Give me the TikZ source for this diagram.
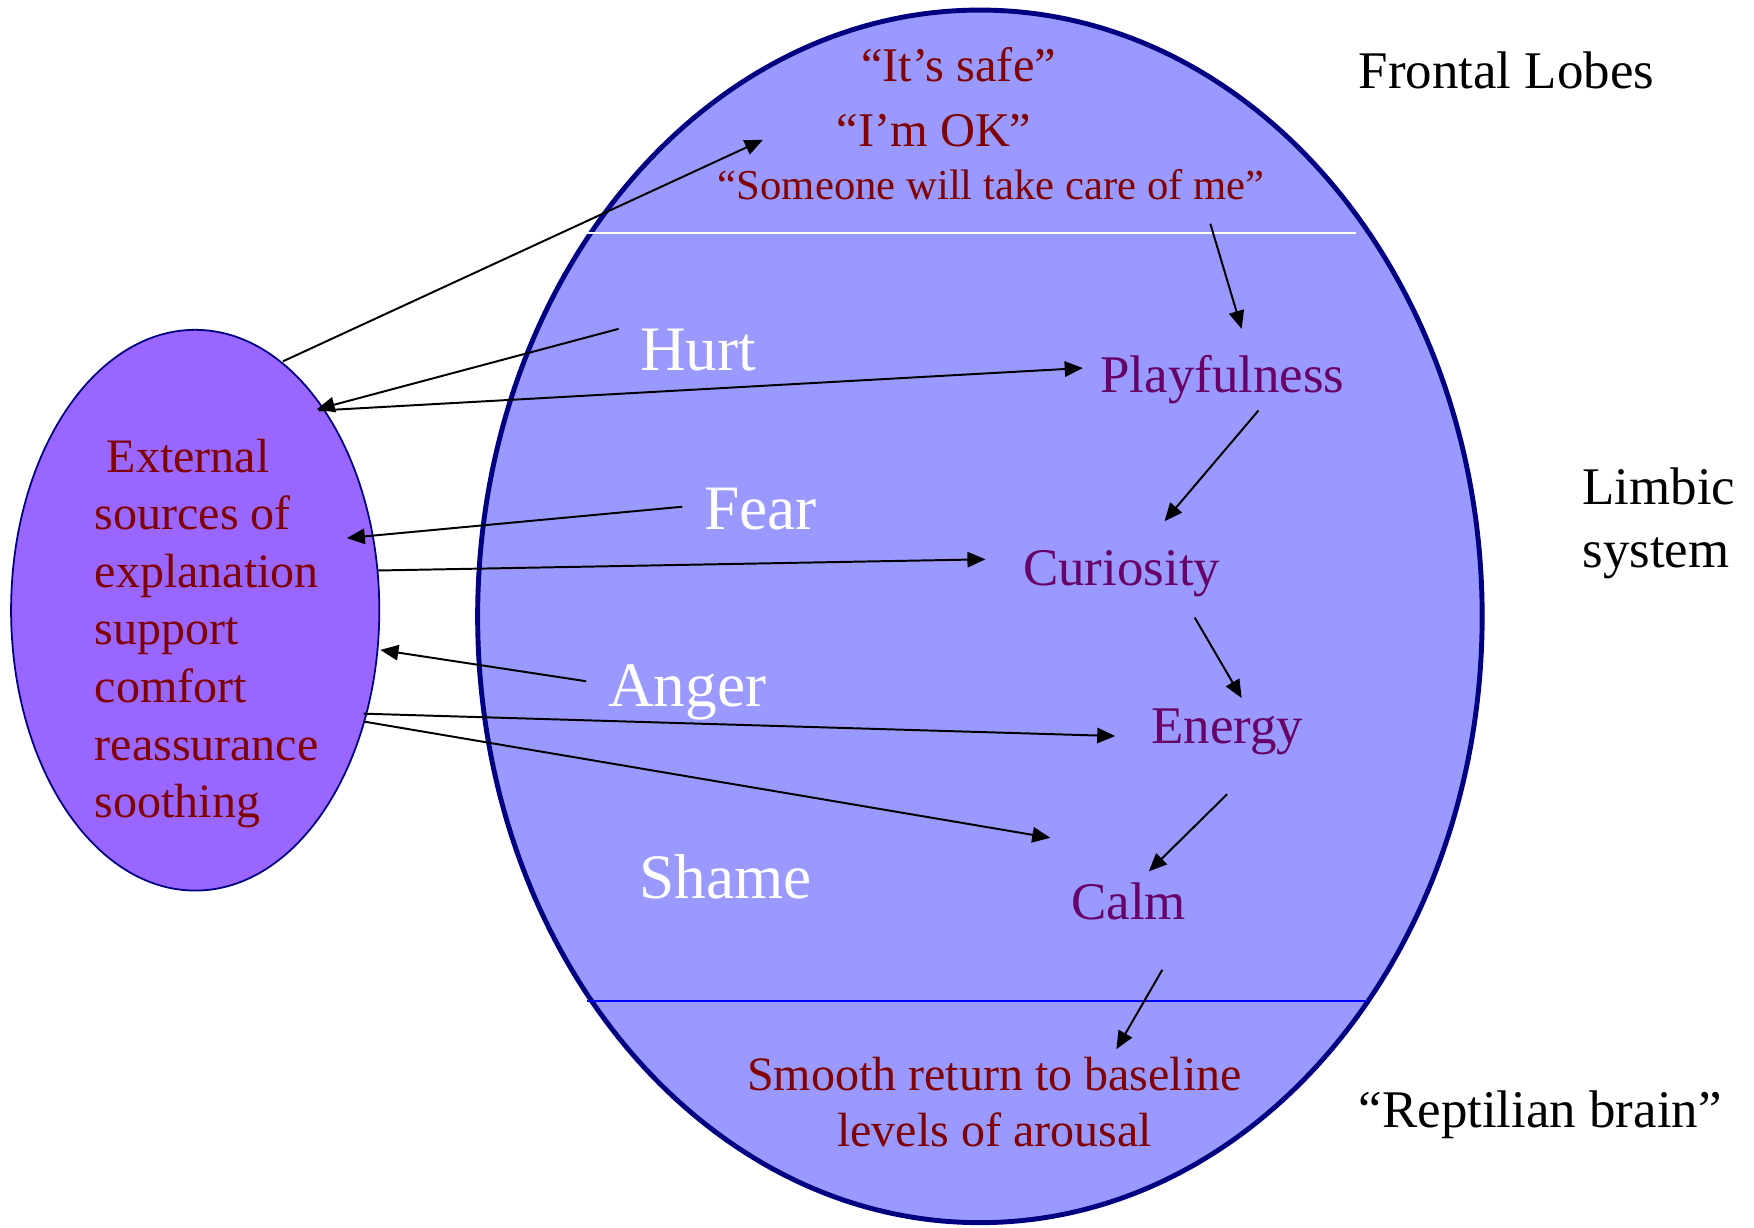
\documentclass[tikz,border=0pt]{standalone}
\usepackage{fontspec}
\setmainfont{Liberation Serif}
\usetikzlibrary{arrows.meta,shapes.geometric}
\definecolor{lobefill}{HTML}{9999FF}
\definecolor{srcfill}{HTML}{9966FF}
\definecolor{rim}{HTML}{000080}
\definecolor{maroon}{HTML}{800000}
\definecolor{plum}{HTML}{660066}
\definecolor{divider}{HTML}{0000FF}

\begin{document}
\begin{tikzpicture}[x=0.01cm,y=-0.01cm,
  emo/.style={text=white,font=\fontsize{16.1}{19}\selectfont,anchor=base west,inner sep=0pt},
  calmstep/.style={text=plum,font=\fontsize{13.45}{16}\selectfont,anchor=base west,inner sep=0pt},
  region/.style={text=black,font=\fontsize{13.45}{16}\selectfont,anchor=base west,inner sep=0pt},
  selftalk/.style={text=maroon,font=\fontsize{12.3}{15}\selectfont,anchor=base,inner sep=0pt},
  srcline/.style={text=maroon,font=\fontsize{12.2}{14.6}\selectfont,anchor=base west,inner sep=0pt},
  arr/.style={-{Triangle[length=4.6pt,width=3.9pt]},line width=0.5pt,black}]
\useasboundingbox (0,0) rectangle (1568,1097);

% the brain and its three layers
\draw[draw=rim,line width=1.25pt,fill=lobefill] (876,551) ellipse [x radius=449, y radius=542];
\draw[white,line width=0.5pt] (525,208) -- (1212,208);
\draw[divider,line width=0.5pt] (525,895) -- (1222,895);

% external sources
\node[ellipse,draw=rim,line width=0.45pt,fill=srcfill,minimum width=3.29cm,minimum height=5.01cm,inner sep=0pt] (src) at (174.5,545.5) {};
\node[srcline] (src1) at (84,422) {\hspace*{0.25em}External};
\node[srcline] (src2) at (84,473.5) {sources of};
\node[srcline] (src3) at (84,525) {explanation};
\node[srcline] (src4) at (84,576.5) {support};
\node[srcline] (src5) at (84,628) {comfort};
\node[srcline] (src6) at (84,679.5) {reassurance};
\node[srcline] (src7) at (84,731) {soothing};

% layer names
\node[region] (frontal) at (1214,79) {Frontal Lobes};
\node[region] (limbic1) at (1414,451) {Limbic};
\node[region] (limbic2) at (1414,507) {system};
\node[region] (reptile) at (1214,1008) {“Reptilian brain”};

% frontal self-talk
\node[selftalk] (safe) at (857,73) {“It’s safe”};
\node[selftalk] (ok) at (835,131) {“I’m OK”};
\node[selftalk,font=\fontsize{10.85}{13}\selectfont] (care) at (886,178) {“Someone will take care of me”};

% emotions
\node[emo] (hurt) at (571.5,331) {Hurt};
\node[emo] (fear) at (628.8,473.5) {Fear};
\node[emo] (anger) at (543,632) {Anger};
\node[emo] (shame) at (571,803) {Shame};

% regulated sequence
\node[calmstep] (play) at (983,351) {Playfulness};
\node[calmstep] (curio) at (914,523) {Curiosity};
\node[calmstep] (energy) at (1028.7,664.5) {Energy};
\node[calmstep] (calm) at (957,822) {Calm};

% baseline
\node[selftalk,font=\fontsize{12.2}{14.6}\selectfont] (smooth1) at (889,974.5) {Smooth return to baseline};
\node[selftalk,font=\fontsize{12.2}{14.6}\selectfont] (smooth2) at (889,1025) {levels of arousal};

% connector ends
\coordinate (srcTop) at (253,323);
\coordinate (frontIn) at (682,125);
\coordinate (hurtOut) at (553,294);
\coordinate (srcHurt) at (283,366);
\coordinate (srcPlay) at (285,367);
\coordinate (playIn) at (968,329);
\coordinate (fearOut) at (610,453);
\coordinate (srcFear) at (310,481);
\coordinate (srcCurio) at (338,510);
\coordinate (curioIn) at (881,500);
\coordinate (angerOut) at (524,609);
\coordinate (srcAnger) at (340,581);
\coordinate (srcEnergy) at (325,638);
\coordinate (energyIn) at (997,658);
\coordinate (srcCalm) at (325,645);
\coordinate (calmIn) at (939,749);
\coordinate (frontOut) at (1082,200);
\coordinate (playTop) at (1110,294);
\coordinate (playOut) at (1125,367);
\coordinate (curioTop) at (1041,466);
\coordinate (curioOut) at (1068,552);
\coordinate (energyTop) at (1110,624);
\coordinate (energyOut) at (1097,710);
\coordinate (calmTop) at (1027,779);
\coordinate (calmOut) at (1039,867);
\coordinate (smoothTop) at (998,938);

% connectors
\draw[arr] (srcTop) -- (frontIn);
\draw[arr] (hurtOut) -- (srcHurt);
\draw[arr] (srcPlay) -- (playIn);
\draw[arr] (fearOut) -- (srcFear);
\draw[arr] (srcCurio) -- (curioIn);
\draw[arr] (angerOut) -- (srcAnger);
\draw[arr] (srcEnergy) -- (energyIn);
\draw[arr] (srcCalm) -- (calmIn);
\draw[arr] (frontOut) -- (playTop);
\draw[arr] (playOut) -- (curioTop);
\draw[arr] (curioOut) -- (energyTop);
\draw[arr] (energyOut) -- (calmTop);
\draw[arr] (calmOut) -- (smoothTop);
\end{tikzpicture}
\end{document}
